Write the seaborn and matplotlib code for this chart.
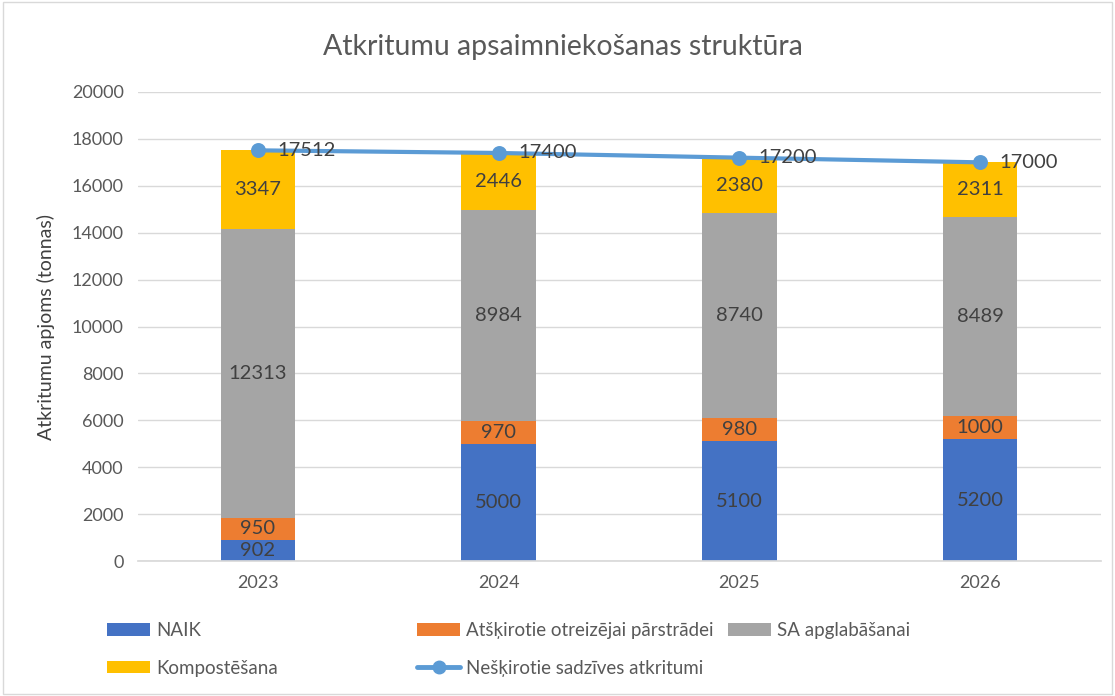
import matplotlib
matplotlib.use("Agg")
import matplotlib.pyplot as plt
from matplotlib.patches import Patch, Rectangle
from matplotlib.lines import Line2D
import seaborn as sns
import pandas as pd

# dati
gadi = ["2023", "2024", "2025", "2026"]
naik = [902, 5000, 5100, 5200]
atskirotie = [950, 970, 980, 1000]
sa_apglab = [12313, 8984, 8740, 8489]
kompost = [3347, 2446, 2380, 2311]
neskirotie = [17512, 17400, 17200, 17000]

serijas = ["NAIK", "Atšķirotie otreizējai pārstrādei", "SA apglabāšanai", "Kompostēšana"]
vertibas = [naik, atskirotie, sa_apglab, kompost]
krasas = ["#4472C4", "#ED7D31", "#A5A5A5", "#FFC000"]
linijas_krasa = "#5B9BD5"
linijas_nos = "Nešķirotie sadzīves atkritumi"

sns.set_theme(style="white")
plt.rcParams["font.family"] = ["Lato", "DejaVu Sans"]
teksts = "#595959"

fig = plt.figure(figsize=(11.15, 6.96), dpi=100)
ax = fig.add_axes([137.5 / 1115, 1 - 561 / 696, 963 / 1115, (561 - 92) / 696])

# kumulativas summas, zimejam no augsas uz leju (parklajas)
kum = []
s = [0, 0, 0, 0]
for v in vertibas:
    s = [a + b for a, b in zip(s, v)]
    kum.append(s)

for i in reversed(range(len(serijas))):
    df = pd.DataFrame({"gads": gadi, "v": kum[i]})
    sns.barplot(data=df, x="gads", y="v", color=krasas[i], width=0.31,
                saturation=1, ax=ax, linewidth=0)

# vertibu etiketes segmentos
for i, v in enumerate(vertibas):
    for j in range(len(gadi)):
        y = kum[i][j] - v[j] / 2
        ax.text(j, y, str(v[j]), ha="center", va="center", fontsize=14.5, color="#404040")

# linija
sns.pointplot(x=gadi, y=neskirotie, color=linijas_krasa, markers="o",
              markersize=8.5, linewidth=3, ax=ax)
for j, t in enumerate(neskirotie):
    ax.annotate(str(t), (j, t), xytext=(14, 0), textcoords="offset points",
                ha="left", va="center", fontsize=14.5, color="#404040")

ax.set_ylim(0, 20000)
ax.set_yticks(range(0, 20001, 2000))
ax.set_xlim(-0.5, 3.5)
ax.yaxis.grid(True, color="#D9D9D9", linewidth=1)
ax.set_axisbelow(True)
for sp in ["top", "right", "left"]:
    ax.spines[sp].set_visible(False)
ax.spines["bottom"].set_color("#D9D9D9")
ax.tick_params(axis="both", length=0, labelsize=13, labelcolor=teksts, pad=10)
ax.set_xlabel("")
ax.set_ylabel("Atkritumu apjoms (tonnas)", fontsize=14, color="#404040", labelpad=12)

fig.text(563 / 1115, 1 - 47 / 696, "Atkritumu apsaimniekošanas struktūra",
         ha="center", va="center", fontsize=20.5, color=teksts)

# legenda - trīs kolonnas
h = [Patch(facecolor=c, edgecolor="none") for c in krasas]
hl = Line2D([0], [0], color=linijas_krasa, linewidth=3.5, marker="o", markersize=9)
kol = [([h[0], h[3]], [serijas[0], serijas[3]], 107),
       ([h[1], hl], [serijas[1], linijas_nos], 417),
       ([h[2]], [serijas[2]], 728)]
for hh, ll, xp in kol:
    leg = fig.legend(hh, ll, loc="upper left", bbox_to_anchor=(xp / 1115, 1 - 622 / 696),
                     frameon=False, fontsize=13.5, handlelength=2.3, handleheight=0.65,
                     handletextpad=0.3, borderpad=0, borderaxespad=0, labelspacing=1.1,
                     labelcolor=teksts)

fig.patches.append(Rectangle((0.003, 0.003), 0.994, 0.994, transform=fig.transFigure,
                             fill=False, edgecolor="#D9D9D9", linewidth=1))

fig.savefig("out.png", dpi=100)
